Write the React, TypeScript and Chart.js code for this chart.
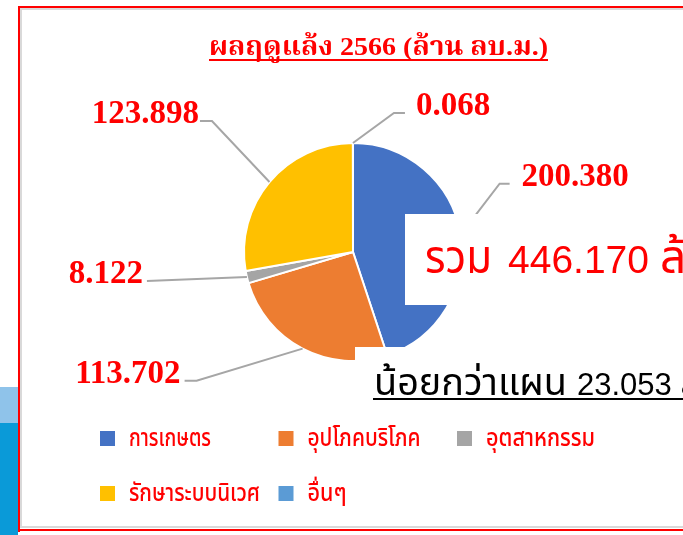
import React, { useEffect, useRef } from "react";
import { Chart, registerables } from "chart.js";

Chart.register(...registerables);

// ---- data ----
const categories = ["การเกษตร", "อุปโภคบริโภค", "อุตสาหกรรม", "รักษาระบบนิเวศ", "อื่นๆ"];
const values = [200.38, 113.702, 8.122, 123.898, 0.068];
const sliceColors = ["#4472C4", "#ED7D31", "#A5A5A5", "#FFC000", "#5B9BD5"];
const titleText = "ผลฤดูแล้ง 2566 (ล้าน ลบ.ม.)";
const totalPrefix = "รวม";
const unitText = "ล้านลบ.ม.";
const shortfallPrefix = "น้อยกว่าแผน";
const shortfallValue = 23.053;

// ---- layout of leader lines (offsets from the slice's outer mid point) ----
const leaderLayout = [
  { dx: 39, dy: -51, run: 10, textDx: 12 },
  { dx: -106, dy: 32, run: -12, textDx: -4 },
  { dx: -100, dy: 4, run: 0, textDx: -4 },
  { dx: -57.5, dy: -61, run: -12, textDx: -1 },
  { dx: 41, dy: -30, run: 11, textDx: 11 },
];

const W = 683;
const H = 535;
const RED = "#FF0000";
const SERIF = "'Liberation Serif', 'Noto Serif Thai', 'Noto Sans Thai', serif";
const SANS = "'Liberation Sans', 'Noto Sans Thai', Arial, sans-serif";
const THAI = "'Noto Sans Thai', 'Noto Serif Thai', 'Liberation Sans', sans-serif";

function fitText(ctx: CanvasRenderingContext2D, text: string, x: number, y: number, width: number) {
  const w = ctx.measureText(text).width;
  ctx.save();
  ctx.translate(x, y);
  ctx.scale(width / w, 1);
  ctx.textAlign = "left";
  ctx.fillText(text, 0, 0);
  ctx.restore();
}

const backgroundPlugin = {
  id: "bgFrame",
  beforeDraw(chart: any) {
    const ctx: CanvasRenderingContext2D = chart.ctx;
    ctx.save();
    ctx.fillStyle = "#FFFFFF";
    ctx.fillRect(0, 0, W, H);
    // left strip of the slide behind
    ctx.fillStyle = "#8FC3EA";
    ctx.fillRect(0, 387, 18, 36);
    ctx.fillStyle = "#0A9AD8";
    ctx.fillRect(0, 423, 18, H - 423);
    // inner grey shadow
    ctx.fillStyle = "#D9D9D9";
    ctx.fillRect(20, 8, W - 20, 2);
    ctx.fillRect(20, 8, 2, 520);
    ctx.fillRect(20, 526, W - 20, 2);
    // red frame
    ctx.fillStyle = RED;
    ctx.fillRect(18, 6, W - 18, 2);
    ctx.fillRect(18, 6, 2, 526);
    ctx.fillRect(18, 529, W - 18, 2);
    ctx.restore();
  },
};

const decorPlugin = {
  id: "decor",
  afterDatasetsDraw(chart: any) {
    const ctx: CanvasRenderingContext2D = chart.ctx;
    const meta = chart.getDatasetMeta(0);
    ctx.save();
    // leader lines + value labels
    meta.data.forEach((arc: any, i: number) => {
      const p = arc.getProps(["x", "y", "startAngle", "endAngle", "outerRadius"], true);
      const mid = (p.startAngle + p.endAngle) / 2;
      const sx = p.x + Math.cos(mid) * p.outerRadius;
      const sy = p.y + Math.sin(mid) * p.outerRadius;
      const L = leaderLayout[i];
      const ex = sx + L.dx;
      const ey = sy + L.dy;
      const fx = ex + L.run;
      ctx.strokeStyle = "#A6A6A6";
      ctx.lineWidth = 2;
      ctx.beginPath();
      ctx.moveTo(sx, sy);
      ctx.lineTo(ex, ey);
      ctx.lineTo(fx, ey);
      ctx.stroke();
      ctx.fillStyle = RED;
      ctx.font = `bold 33px ${SERIF}`;
      ctx.textBaseline = "alphabetic";
      ctx.textAlign = L.textDx > 0 ? "left" : "right";
      ctx.fillText(values[i].toFixed(3), fx + L.textDx, ey + 2);
    });

    // title
    ctx.fillStyle = RED;
    ctx.font = `bold 26px ${SERIF}`;
    ctx.textBaseline = "alphabetic";
    fitText(ctx, titleText, 209, 55, 339);
    ctx.fillRect(209, 59, 339, 2);

    // legend
    const colX = [100, 278.5, 457];
    const rowY = [438.5, 493.5];
    ctx.font = `500 24px ${THAI}`;
    const legendWidths = [82, 113, 109, 131, 39];
    categories.forEach((c, i) => {
      const x = colX[i % 3];
      const y = rowY[Math.floor(i / 3)];
      ctx.fillStyle = sliceColors[i];
      ctx.fillRect(x, y - 7.5, 15, 15);
      ctx.fillStyle = RED;
      ctx.textBaseline = "alphabetic";
      fitText(ctx, c, x + 29, y + 7, legendWidths[i]);
    });

    // overlay box: total
    const total = values.reduce((a, b) => a + b, 0);
    ctx.fillStyle = "#FFFFFF";
    ctx.fillRect(405, 214, W - 405, 91);
    ctx.fillStyle = RED;
    ctx.font = `46px ${SANS}`;
    fitText(ctx, totalPrefix, 425, 273, 67);
    ctx.font = `39px ${SANS}`;
    ctx.textAlign = "left";
    ctx.fillText(total.toFixed(3), 508, 273);
    ctx.font = `46px ${SANS}`;
    ctx.fillText(unitText, 660, 273);

    // overlay box: shortfall
    ctx.fillStyle = "#FFFFFF";
    ctx.fillRect(355, 347, W - 355, 56);
    ctx.fillStyle = "#000000";
    ctx.font = `37px ${SANS}`;
    fitText(ctx, shortfallPrefix, 374, 395, 193);
    ctx.font = `31px ${SANS}`;
    ctx.textAlign = "left";
    ctx.fillText(shortfallValue.toFixed(3) + " " + unitText, 577, 395);
    ctx.fillRect(373, 398, W - 373, 2);
    ctx.restore();
  },
};

export default function App() {
  const ref = useRef<HTMLCanvasElement | null>(null);
  useEffect(() => {
    if (!ref.current) return;
    const chart = new Chart(ref.current, {
      type: "pie",
      data: {
        labels: categories,
        datasets: [
          {
            data: values,
            backgroundColor: sliceColors,
            borderColor: "#FFFFFF",
            borderWidth: 2,
          },
        ],
      },
      options: {
        responsive: false,
        animation: false,
        layout: { padding: { left: 243, right: 220, top: 142, bottom: 173 } },
        plugins: {
          legend: { display: false },
          tooltip: { enabled: false },
          title: { display: false },
        },
      },
      plugins: [backgroundPlugin, decorPlugin],
    });
    return () => chart.destroy();
  }, []);
  return (
    <div style={{ position: "fixed", left: 0, top: 0, width: W, height: H, overflow: "hidden", background: "#fff" }}>
      <canvas ref={ref} width={W} height={H} style={{ display: "block", width: W, height: H }} />
    </div>
  );
}
